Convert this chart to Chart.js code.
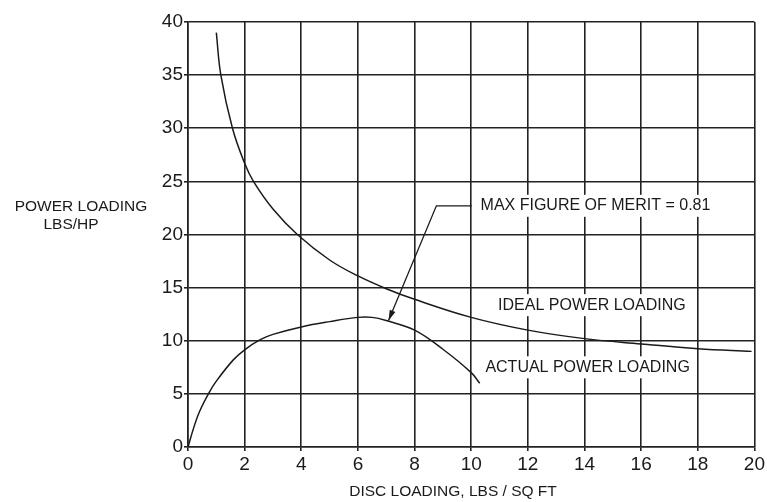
<!DOCTYPE html>
<html>
<head>
<meta charset="utf-8">
<script src="https://cdn.jsdelivr.net/npm/chart.js@4"></script>
<style>
  html, body { margin: 0; padding: 0; background: #fff; }
  #wrap { width: 767px; height: 502px; position: relative; }
</style>
</head>
<body>
<div id="wrap"><canvas id="chart"></canvas></div>
<script>
// Values (disc loading vs power loading)
const idealX = [1, 1.16, 1.57, 2, 2.31, 3, 3.86, 5, 6, 7, 8, 10, 12, 14, 16, 18, 19.9];
const idealY = [39, 35, 30, 26.7, 25, 22.4, 20, 17.6, 16.1, 14.9, 13.9, 12.2, 11.0, 10.2, 9.7, 9.25, 9.0];
const actualX = [0, 0.2, 0.4, 0.74, 1, 1.6, 2, 2.55, 3, 4, 5, 6, 6.5, 7, 8, 9, 10, 10.3];
const actualY = [0, 1.8, 3.3, 5.1, 6.2, 8.2, 9.15, 10.1, 10.6, 11.3, 11.8, 12.2, 12.2, 11.9, 11.0, 9.2, 7.0, 6.0];
const xTicks = [0, 2, 4, 6, 8, 10, 12, 14, 16, 18, 20];
const yTicks = [0, 5, 10, 15, 20, 25, 30, 35, 40];

// leader line for the figure-of-merit note (data coordinates)
const leaderX = [10.02, 8.77, 7.08];
const leaderY = [22.7, 22.7, 11.9];

const toPoints = (xs, ys) => xs.map((x, i) => ({ x, y: ys[i] }));

const FONT = '"Liberation Sans", Arial, sans-serif';
const INK = '#1a1a1a';

const labelsPlugin = {
  id: 'figureLabels',
  afterDatasetsDraw(chart) {
    const { ctx, scales: { x, y } } = chart;
    ctx.save();

    // boxed labels on the grid
    const boxText = (text, xv, yv) => {
      ctx.font = '16px ' + FONT;
      const w = ctx.measureText(text).width;
      const px = x.getPixelForValue(xv);
      const py = y.getPixelForValue(yv);
      ctx.fillStyle = '#fff';
      ctx.fillRect(px - 5, py - 11, w + 10, 22);
      ctx.fillStyle = INK;
      ctx.textBaseline = 'middle';
      ctx.textAlign = 'left';
      ctx.fillText(text, px, py);
    };
    boxText('MAX FIGURE OF MERIT = 0.81', 10.33, 22.7);
    boxText('IDEAL POWER LOADING', 10.95, 13.35);
    boxText('ACTUAL POWER LOADING', 10.5, 7.5);

    // arrow head at leader tip
    const n = leaderX.length;
    const tx = x.getPixelForValue(leaderX[n - 1]);
    const ty = y.getPixelForValue(leaderY[n - 1]);
    const sx = x.getPixelForValue(leaderX[n - 2]);
    const sy = y.getPixelForValue(leaderY[n - 2]);
    const ang = Math.atan2(ty - sy, tx - sx);
    const len = 11, half = 0.28;
    ctx.fillStyle = INK;
    ctx.beginPath();
    ctx.moveTo(tx, ty);
    ctx.lineTo(tx - len * Math.cos(ang - half), ty - len * Math.sin(ang - half));
    ctx.lineTo(tx - len * Math.cos(ang + half), ty - len * Math.sin(ang + half));
    ctx.closePath();
    ctx.fill();

    // axis titles
    ctx.fillStyle = INK;
    ctx.font = '15.5px ' + FONT;
    ctx.textAlign = 'center';
    ctx.textBaseline = 'middle';
    ctx.fillText('POWER LOADING', 81, 207);
    ctx.fillText('LBS/HP', 71, 225);
    ctx.fillText('DISC LOADING, LBS / SQ FT', 453, 492);
    ctx.restore();
  }
};

new Chart(document.getElementById('chart'), {
  type: 'scatter',
  data: {
    datasets: [
      {
        label: 'Ideal power loading',
        data: toPoints(idealX, idealY),
        showLine: true,
        borderColor: INK,
        borderWidth: 1.5,
        pointRadius: 0,
        tension: 0.4,
        fill: false
      },
      {
        label: 'Actual power loading',
        data: toPoints(actualX, actualY),
        showLine: true,
        borderColor: INK,
        borderWidth: 1.5,
        pointRadius: 0,
        tension: 0.4,
        fill: false
      },
      {
        label: 'leader',
        data: toPoints(leaderX, leaderY),
        showLine: true,
        borderColor: INK,
        borderWidth: 1.3,
        pointRadius: 0,
        tension: 0,
        fill: false
      }
    ]
  },
  options: {
    responsive: true,
    maintainAspectRatio: false,
    animation: false,
    layout: { padding: { left: 0, right: 12, top: 22, bottom: 0 } },
    plugins: { legend: { display: false }, tooltip: { enabled: false } },
    scales: {
      x: {
        type: 'linear',
        min: 0,
        max: 20,
        afterBuildTicks: (s) => { s.ticks = xTicks.map(v => ({ value: v })); },
        afterFit: (s) => { s.height = 55; },
        grid: { color: '#222', lineWidth: 1.6, tickLength: 4 },
        border: { color: '#222', width: 1.6 },
        ticks: { color: INK, font: { family: FONT, size: 19 }, padding: 2, maxRotation: 0 }
      },
      y: {
        type: 'linear',
        min: 0,
        max: 40,
        afterBuildTicks: (s) => { s.ticks = yTicks.map(v => ({ value: v })); },
        afterFit: (s) => { s.width = 188; },
        grid: { color: '#222', lineWidth: 1.6, tickLength: 4 },
        border: { color: '#222', width: 1.6 },
        ticks: { color: INK, font: { family: FONT, size: 19 }, padding: 1 }
      }
    }
  },
  plugins: [labelsPlugin]
});
</script>
</body>
</html>
